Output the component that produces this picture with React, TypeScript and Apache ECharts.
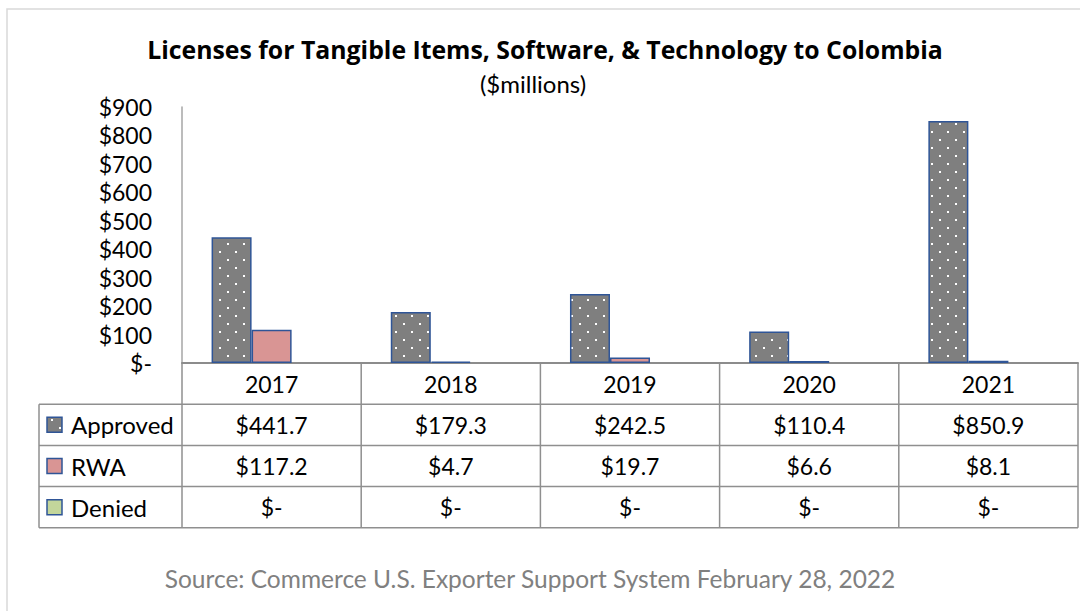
import React, { useEffect, useRef } from 'react';
import * as echarts from 'echarts';

const years = ['2017', '2018', '2019', '2020', '2021'];
const seriesNames = ['Approved', 'RWA', 'Denied'];
const approved = [441.7, 179.3, 242.5, 110.4, 850.9];
const rwa = [117.2, 4.7, 19.7, 6.6, 8.1];
const denied = [0, 0, 0, 0, 0];
const yMin = 0;
const yMax = 900;
const yInterval = 100;
const titleText = 'Licenses for Tangible Items, Software, & Technology to Colombia';
const subtitleText = '($millions)';
const sourceText = 'Source: Commerce U.S. Exporter Support System February 28, 2022';

const fmtMoney = (v: number) => (v === 0 ? '$-' : '$' + v.toFixed(1));
const fmtTick = (v: number) => (v === 0 ? '$-' : '$' + v);

const W = 1080;
const H = 611;
const FONT = 'Lato';
const gridLeft = 182;
const gridRight = 1078;
const gridTop = 107;
const gridBottom = 363;
const rowH = 41.2;
const legendLeft = 39;
const tableLine = '#8f8f8f';
const barBorder = '#2F5597';
const approvedGray = '#7f7f7f';
const rwaPink = '#D99594';
const deniedGreen = '#C3D69B';

function makeDotPattern() {
  const c = document.createElement('canvas');
  c.width = 16;
  c.height = 16;
  const ctx = c.getContext('2d')!;
  ctx.fillStyle = approvedGray;
  ctx.fillRect(0, 0, 16, 16);
  ctx.fillStyle = '#ffffff';
  ctx.fillRect(3, 3, 2, 2);
  ctx.fillRect(11, 11, 2, 2);
  return { image: c, repeat: 'repeat', imageWidth: 16, imageHeight: 16 } as any;
}

export default function App() {
  const ref = useRef<HTMLDivElement>(null);
  useEffect(() => {
    if (!ref.current) return;
    const chart = echarts.init(ref.current, undefined, { renderer: 'svg', width: W, height: H });
    const pattern = makeDotPattern();
    const fills = [pattern, rwaPink, deniedGreen];
    const rows = [approved, rwa, denied];
    const colW = (gridRight - gridLeft) / years.length;
    const tableBottom = gridBottom + 4 * rowH;

    const graphic: any[] = [];
    graphic.push({
      type: 'rect',
      silent: true,
      shape: { x: 7, y: 9, width: 1100, height: 700 },
      style: { fill: 'none', stroke: '#d9d9d9', lineWidth: 1.5 },
    });
    for (let k = 1; k <= 4; k++) {
      const y = gridBottom + k * rowH;
      graphic.push({
        type: 'line',
        silent: true,
        shape: { x1: legendLeft, y1: y, x2: gridRight, y2: y },
        style: { stroke: tableLine, lineWidth: 1.5 },
      });
    }
    graphic.push({
      type: 'line',
      silent: true,
      shape: { x1: legendLeft, y1: gridBottom + rowH, x2: legendLeft, y2: tableBottom },
      style: { stroke: tableLine, lineWidth: 1.5 },
    });
    for (let j = 0; j <= years.length; j++) {
      const x = gridLeft + j * colW;
      graphic.push({
        type: 'line',
        silent: true,
        shape: { x1: x, y1: gridBottom, x2: x, y2: tableBottom },
        style: { stroke: tableLine, lineWidth: 1.5 },
      });
    }
    seriesNames.forEach((name, i) => {
      const cy = gridBottom + (i + 1) * rowH + rowH / 2;
      graphic.push({
        type: 'rect',
        silent: true,
        shape: { x: 47, y: cy - 7.5, width: 15, height: 15 },
        style: { fill: fills[i], stroke: barBorder, lineWidth: 1.5 },
      });
      graphic.push({
        type: 'text',
        silent: true,
        x: 71,
        y: cy,
        style: {
          text: name,
          fill: '#000',
          font: `24px ${FONT}`,
          textAlign: 'left',
          textVerticalAlign: 'middle',
        },
      });
    });
    graphic.push({
      type: 'text',
      silent: true,
      x: 545,
      y: 49,
      style: {
        text: titleText,
        fill: '#000',
        font: `bold 24.8px "Open Sans"`,
        textAlign: 'center',
        textVerticalAlign: 'middle',
      },
    });
    graphic.push({
      type: 'text',
      silent: true,
      x: 533,
      y: 83,
      style: {
        text: subtitleText,
        fill: '#000',
        font: `24px ${FONT}`,
        textAlign: 'center',
        textVerticalAlign: 'middle',
      },
    });
    graphic.push({
      type: 'text',
      silent: true,
      x: 530,
      y: 578,
      style: {
        text: sourceText,
        fill: '#808080',
        font: `24.5px ${FONT}`,
        textAlign: 'center',
        textVerticalAlign: 'middle',
      },
    });

    const labelBase = {
      color: '#000',
      fontSize: 23,
      fontFamily: FONT,
      margin: rowH / 2,
      verticalAlign: 'middle',
      interval: 0,
    };

    const xAxes: any[] = [
      {
        type: 'category',
        data: years,
        position: 'bottom',
        axisLine: { show: true, lineStyle: { color: '#8c8c8c', width: 2 } },
        axisTick: { show: false },
        splitLine: { show: false },
        axisLabel: { ...labelBase },
      },
      ...rows.map((vals, i) => ({
        type: 'category',
        data: years,
        position: 'bottom',
        offset: (i + 1) * rowH,
        axisLine: { show: false },
        axisTick: { show: false },
        splitLine: { show: false },
        axisLabel: { ...labelBase, formatter: (_v: string, idx: number) => fmtMoney(vals[idx]) },
      })),
    ];

    chart.setOption({
      animation: false,
      backgroundColor: '#ffffff',
      grid: {
        left: gridLeft,
        right: W - gridRight,
        top: gridTop,
        bottom: H - gridBottom,
        containLabel: false,
      },
      xAxis: xAxes,
      yAxis: {
        type: 'value',
        min: yMin,
        max: yMax,
        interval: yInterval,
        axisLine: { show: true, lineStyle: { color: '#a6a6a6', width: 1.5 } },
        axisTick: { show: false },
        splitLine: { show: false },
        axisLabel: { formatter: fmtTick, color: '#000', fontSize: 23, fontFamily: FONT, margin: 30 },
      },
      series: [
        {
          name: seriesNames[0],
          type: 'bar',
          data: approved,
          barGap: '0%',
          barCategoryGap: '33%',
          itemStyle: { color: pattern, borderColor: barBorder, borderWidth: 1.5 },
        },
        {
          name: seriesNames[1],
          type: 'bar',
          data: rwa,
          barGap: '0%',
          barCategoryGap: '33%',
          itemStyle: { color: rwaPink, borderColor: barBorder, borderWidth: 1.5 },
        },
        {
          name: seriesNames[2],
          type: 'bar',
          data: denied,
          barGap: '0%',
          barCategoryGap: '33%',
          itemStyle: { color: deniedGreen, borderColor: barBorder, borderWidth: 0 },
        },
      ],
      graphic,
    });
    return () => chart.dispose();
  }, []);
  return (
    <div
      ref={ref}
      style={{ position: 'fixed', left: 0, top: 0, width: W, height: H, background: '#fff' }}
    />
  );
}
